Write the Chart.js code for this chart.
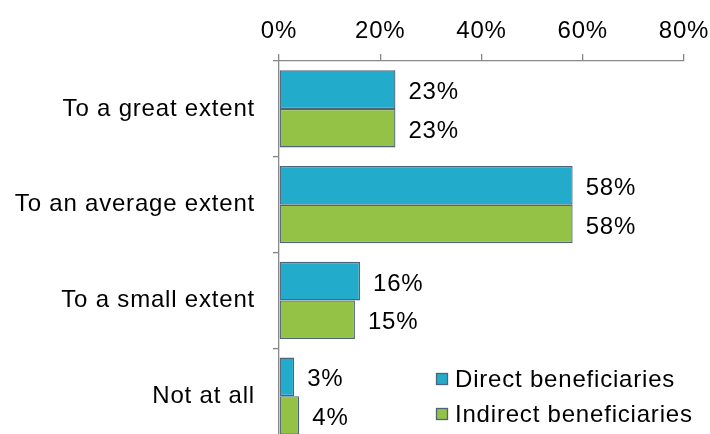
<!DOCTYPE html>
<html><head><meta charset="utf-8">
<script src="https://cdn.jsdelivr.net/npm/chart.js@4"></script>
<style>html,body{margin:0;padding:0;background:#fff;overflow:hidden;width:710px;height:434px}canvas{display:block}</style>
</head><body><canvas id="c" width="710" height="445"></canvas>
<script>
const categories = ["To a great extent","To an average extent","To a small extent","Not at all"];
const directValues = [23,58,16,3];
const indirectValues = [23,58,15,4];
const seriesNames = ["Direct beneficiaries","Indirect beneficiaries"];
const tickValues = [0,20,40,60,80];

const FONT = "'Liberation Sans', Arial, sans-serif";
const FS = 24;
const LS = '0.8px';

const spacingPlugin = {
  id:'spacing',
  beforeDraw(chart){ chart.ctx.letterSpacing = LS; },
  beforeLayout(chart){ chart.ctx.letterSpacing = LS; }
};

const labelPlugin = {
  id:'barLabels',
  afterDatasetsDraw(chart){
    const ctx = chart.ctx;
    ctx.save();
    ctx.letterSpacing = LS;
    ctx.font = FS + "px " + FONT;
    ctx.fillStyle = "#000";
    ctx.textBaseline = "middle";
    ctx.textAlign = "left";
    chart.data.datasets.forEach((ds,i)=>{
      chart.getDatasetMeta(i).data.forEach((bar,j)=>{
        ctx.fillText(ds.data[j] + "%", bar.x + 13, bar.y + 3);
      });
    });
    ctx.restore();
  }
};

const legendPlugin = {
  id:'customLegend',
  afterDraw(chart){
    const ctx = chart.ctx;
    ctx.save();
    ctx.letterSpacing = LS;
    ctx.font = FS + "px " + FONT;
    ctx.textBaseline = "middle";
    const x0 = 436, ys = [379, 414];
    chart.data.datasets.forEach((ds,i)=>{
      ctx.fillStyle = ds.backgroundColor;
      ctx.fillRect(x0, ys[i]-6, 12, 12);
      ctx.strokeStyle = ds.borderColor;
      ctx.lineWidth = 1.3;
      ctx.strokeRect(x0+0.5, ys[i]-5.5, 11, 11);
      ctx.fillStyle = "#000";
      ctx.fillText(ds.label, x0 + 19, ys[i] + 1);
    });
    ctx.restore();
  }
};

new Chart(document.getElementById('c'), {
  type:'bar',
  data:{
    labels: categories,
    datasets:[
      {label: seriesNames[0], data: directValues, backgroundColor:'#23ABCB', borderColor:'#4E6478', borderWidth:1.3, borderSkipped:false},
      {label: seriesNames[1], data: indirectValues, backgroundColor:'#93C247', borderColor:'#4E6478', borderWidth:1.3, borderSkipped:false}
    ]
  },
  options:{
    indexAxis:'y',
    responsive:false,
    animation:false,
    devicePixelRatio:1,
    layout:{padding:{left:0,right:26,top:0,bottom:1}},
    datasets:{bar:{categoryPercentage:0.805, barPercentage:1.0}},
    plugins:{legend:{display:false}, tooltip:{enabled:false}},
    scales:{
      x:{
        position:'top', min:0, max:80,
        afterBuildTicks(scale){ scale.ticks = tickValues.map(v=>({value:v})); },
        afterFit(scale){ scale.height = 61; scale.paddingLeft = 0; scale.paddingRight = 0; },
        grid:{drawOnChartArea:false, drawTicks:true, tickLength:7, color:'#888', lineWidth:1.3},
        border:{display:true, color:'#888', width:1.3},
        ticks:{font:{family:FONT,size:FS}, color:'#000', padding:8, callback:v=>v+'%', maxRotation:0}
      },
      y:{
        afterFit(scale){ scale.width = 279; scale.paddingTop = 0; scale.paddingBottom = 0; },
        grid:{drawOnChartArea:false, drawTicks:true, tickLength:6, color:'#888', lineWidth:1.3, offset:true},
        border:{display:true, color:'#888', width:1.3},
        ticks:{font:{family:FONT,size:FS}, color:'#000', padding:18}
      }
    }
  },
  plugins:[spacingPlugin, labelPlugin, legendPlugin]
});
</script></body></html>
